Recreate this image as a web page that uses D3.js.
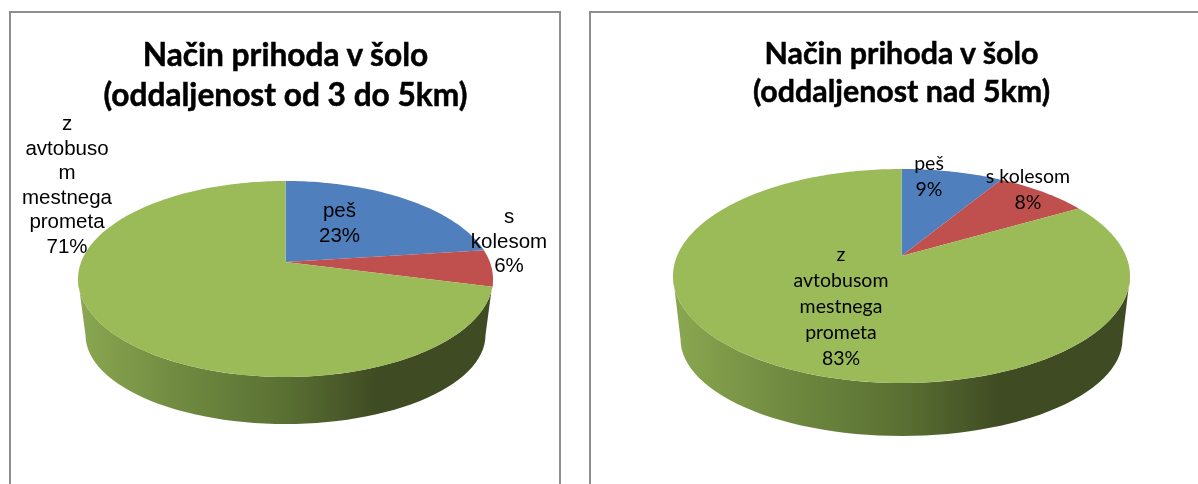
<!DOCTYPE html>
<html lang="sl">
<head>
  <meta charset="UTF-8">
  <title>Način prihoda v šolo</title>
  <style>
    body { margin: 0; background: #fff; overflow: hidden; }
    svg { display: block; }
    .frame { fill: #fff; stroke: #8e8e8e; stroke-width: 2px; }
    .title { font-family: Lato, sans-serif; font-weight: 700; fill: #000; text-anchor: middle; stroke: #000; stroke-width: 0.5px; }
    .label { fill: #000; text-anchor: middle; }
    .soft { filter: blur(0.35px); }
  </style>
</head>
<body>
  <script src="https://d3js.org/d3.v7.min.js"></script>
  <script>
    const categories = ["peš", "s kolesom", "z avtobusom mestnega prometa"];
    const colors = ["#4f7fbc", "#c0504d", "#9bbb59"];

    const valuesLeft = [23, 6, 71];
    const valuesRight = [8.6, 8, 83.4];

    const titleLeft = ["Način prihoda v šolo", "(oddaljenost od 3 do 5km)"];
    const titleRight = ["Način prihoda v šolo", "(oddaljenost nad 5km)"];

    // line breaks as they fall in each chart
    const labelLinesLeft = [["peš"], ["s", "kolesom"], ["z", "avtobuso", "m", "mestnega", "prometa"]];
    const labelLinesRight = [["peš"], ["s kolesom"], ["z", "avtobusom", "mestnega", "prometa"]];

    const width = 1198, height = 484;
    const svg = d3.select("body").append("svg").attr("width", width).attr("height", height);
    const defs = svg.append("defs");

    const sideStops = [
      [0, "#8aa750"], [0.25, "#6f8a40"], [0.5, "#5a7033"], [0.72, "#3f4b23"], [1, "#3f4b23"]
    ];
    const grad = defs.append("linearGradient").attr("id", "side");
    grad.selectAll("stop").data(sideStops).enter().append("stop")
      .attr("offset", d => d[0]).attr("stop-color", d => d[1]);

    function drawPie(cfg) {
      const g = svg.append("g");

      g.append("rect").attr("class", "frame")
        .attr("x", cfg.frame[0]).attr("y", 12)
        .attr("width", cfg.frame[1] - cfg.frame[0]).attr("height", 500);

      g.selectAll(".title").data(cfg.title).enter().append("text")
        .attr("class", "title soft")
        .attr("transform", (d, i) => `translate(${cfg.titleX},${cfg.titleY[i]}) scale(${cfg.titleStretch},1)`)
        .attr("font-size", cfg.titleSize)
        .text(d => d);

      const x = d3.scaleLinear().domain([-1, 1]).range([cfg.cx - cfg.rx, cfg.cx + cfg.rx]);
      const y = d3.scaleLinear().domain([-1, 1]).range([cfg.cy + cfg.ry, cfg.cy - cfg.ry]);
      const xb = d3.scaleLinear().domain([-1, 1]).range([cfg.cx - cfg.rxb, cfg.cx + cfg.rxb]);
      const yb = d3.scaleLinear().domain([-1, 1]).range([cfg.cyb + cfg.ryb, cfg.cyb - cfg.ryb]);

      // perspective: the pie centre lands above the middle of the ellipse
      const e = cfg.tilt;
      const project = a => {
        const u = Math.sin(a), v = Math.cos(a);
        const k = 1 + e * v;
        return [u * Math.sqrt(1 - e * e) / k, (v + e) / k];
      };

      const arcs = d3.pie().sort(null).value(d => d)(cfg.values);
      const line = d3.line();

      // side wall, hull of the top and the bottom ellipse
      const lower = d3.range(90, 271, 3).map(t => t * Math.PI / 180);
      const wall = lower.map(a => [xb(Math.sin(a)), yb(Math.cos(a))])
        .concat(lower.slice().reverse().map(a => [x(Math.sin(a)), y(Math.cos(a))]));
      g.append("path").attr("d", line(wall) + "Z").attr("fill", "url(#side)");

      g.selectAll(".slice").data(arcs).enter().append("path")
        .attr("class", "slice")
        .attr("fill", (d, i) => colors[i])
        .attr("d", d => {
          const n = Math.max(2, Math.ceil((d.endAngle - d.startAngle) / 0.02));
          const pts = d3.range(n + 1).map(i => {
            const p = project(d.startAngle + (d.endAngle - d.startAngle) * i / n);
            return [x(p[0]), y(p[1])];
          });
          return line([[x(0), y(e)]].concat(pts)) + "Z";
        });

      const labels = g.selectAll(".label").data(arcs).enter().append("text")
        .attr("class", "label soft")
        .attr("font-family", cfg.labelFont)
        .attr("font-size", cfg.labelSize);
      labels.each(function(d, i) {
        const lines = cfg.labels[i].concat(Math.round(d.value) + "%");
        d3.select(this).selectAll("tspan").data(lines).enter().append("tspan")
          .attr("x", cfg.labelPos[i][0])
          .attr("y", (t, j) => cfg.labelPos[i][1] + j * cfg.labelStep)
          .text(t => t);
      });
    }

    drawPie({
      frame: [10, 560], title: titleLeft, titleX: 285.5, titleY: [66, 106], titleSize: 33, titleStretch: 0.96,
      values: valuesLeft, labels: labelLinesLeft, labelFont: "'Liberation Sans', Arial, sans-serif",
      labelSize: 20.5, labelStep: 24.5,
      labelPos: [[339.5, 217], [509, 223], [67, 130]],
      cx: 285.5, cy: 279, rx: 207.5, ry: 98, tilt: 17 / 98,
      cyb: 335, rxb: 200, ryb: 89
    });

    drawPie({
      frame: [590, 1230], title: titleRight, titleX: 901.5, titleY: [64, 102], titleSize: 31, titleStretch: 0.98,
      values: valuesRight, labels: labelLinesRight, labelFont: "Lato, sans-serif",
      labelSize: 19.5, labelStep: 26,
      labelPos: [[929, 170], [1028, 183], [841, 261]],
      cx: 901.5, cy: 276, rx: 228.5, ry: 107, tilt: 20 / 107,
      cyb: 339, rxb: 221, ryb: 97
    });
  </script>
</body>
</html>
